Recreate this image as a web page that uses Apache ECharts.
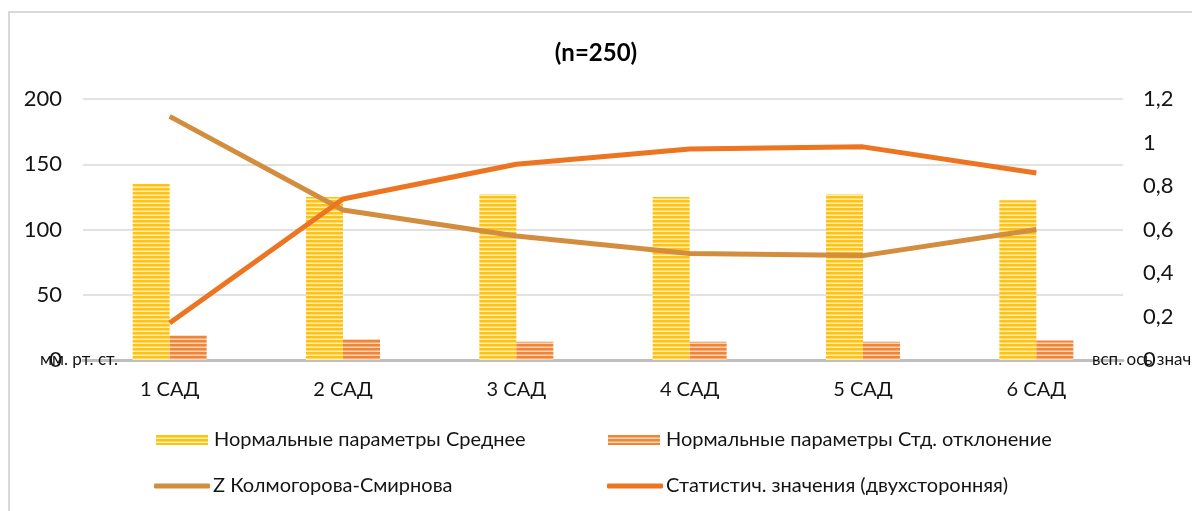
<!DOCTYPE html>
<html>
<head>
<meta charset="utf-8">
<style>
  html, body { margin: 0; padding: 0; background: #fff; }
  #chart { width: 1192px; height: 511px; }
</style>
<script src="https://cdn.jsdelivr.net/npm/echarts@6/dist/echarts.min.js"></script>
</head>
<body>
<div id="chart"></div>
<script>
// Categories and measured values
const categories = ['1 САД', '2 САД', '3 САД', '4 САД', '5 САД', '6 САД'];
const meanValues = [135, 125, 127, 125, 127, 122.5];
const stdValues = [19, 16, 14, 14, 14, 15];
const ksZ = [1.12, 0.69, 0.57, 0.49, 0.48, 0.60];
const pValues = [0.17, 0.74, 0.90, 0.97, 0.98, 0.86];

const seriesNames = [
  'Нормальные параметры Среднее',
  'Нормальные параметры Стд. отклонение',
  'Z Колмогорова-Смирнова',
  'Статистич. значения (двухсторонняя)'
];

const FONT = 'Lato, "Open Sans", sans-serif';
const TEXT = '#141414';

// Horizontal striped fill for the bars
function stripes(c1, c2, c3) {
  const cv = document.createElement('canvas');
  cv.width = 4; cv.height = 4;
  const ctx = cv.getContext('2d');
  ctx.fillStyle = c1; ctx.fillRect(0, 0, 4, 2);
  ctx.fillStyle = c2; ctx.fillRect(0, 2, 4, 1);
  ctx.fillStyle = c3; ctx.fillRect(0, 3, 4, 1);
  return { image: cv, repeat: 'repeat' };
}
const yellowFill = stripes('#FFC20E', '#FFD966', '#FFF0B8');
const orangeFill = stripes('#EF8535', '#F5AE78', '#FAD5B8');

const chart = echarts.init(document.getElementById('chart'), null, { renderer: 'canvas' });

function legendAt(name, left, top, isLine) {
  return {
    data: [{ name: name, icon: isLine ? 'roundRect' : 'rect' }],
    left: left,
    top: top,
    padding: 0,
    itemWidth: isLine ? 56 : 52,
    itemHeight: isLine ? 5 : 10,
    itemGap: 0,
    textStyle: {
      fontFamily: FONT, fontSize: 20, color: TEXT,
      padding: isLine ? [0, 0, 0, -2] : [0, 0, 0, 1]
    }
  };
}

chart.setOption({
  animation: false,
  backgroundColor: '#fff',
  title: {
    text: '(n=250)',
    left: 'center',
    top: 36,
    textStyle: { fontFamily: FONT, fontSize: 24, fontWeight: 'bold', color: '#000' }
  },
  graphic: [
    {
      type: 'rect',
      shape: { x: 9, y: 12, width: 1400, height: 700 },
      style: { fill: 'none', stroke: '#d9d9d9', lineWidth: 2 },
      silent: true
    },
    {
      type: 'text',
      left: 40,
      top: 351,
      style: { text: 'мм. рт. ст.', fontFamily: FONT, fontSize: 17, fill: TEXT },
      z: 100
    },
    {
      type: 'text',
      left: 1092,
      top: 351,
      style: { text: 'всп. ось знач', fontFamily: FONT, fontSize: 17, fill: TEXT },
      z: 100
    }
  ],
  legend: [
    legendAt(seriesNames[0], 156, 430, false),
    legendAt(seriesNames[1], 608, 430, false),
    legendAt(seriesNames[2], 154, 476, true),
    legendAt(seriesNames[3], 607, 476, true)
  ],
  grid: { left: 83, right: 69, top: 99, bottom: 151, containLabel: false },
  xAxis: {
    type: 'category',
    data: categories,
    axisLine: { lineStyle: { color: '#bfbfbf', width: 3 } },
    axisTick: { show: false },
    axisLabel: { fontFamily: FONT, fontSize: 20, color: TEXT, margin: 20 }
  },
  yAxis: [
    {
      type: 'value',
      min: 0, max: 200, interval: 50,
      axisLine: { show: false },
      axisTick: { show: false },
      splitLine: { lineStyle: { color: '#d9d9d9', width: 1.5 } },
      axisLabel: { fontFamily: FONT, fontSize: 22, color: TEXT, margin: 21 }
    },
    {
      type: 'value',
      min: 0, max: 1.2, interval: 0.2,
      axisLine: { show: false },
      axisTick: { show: false },
      splitLine: { show: false },
      axisLabel: {
        fontFamily: FONT, fontSize: 22, color: TEXT, margin: 20,
        formatter: v => String(+v.toFixed(1)).replace('.', ',')
      }
    }
  ],
  series: [
    {
      name: seriesNames[0],
      type: 'bar',
      data: meanValues,
      barWidth: 37,
      barGap: '0%',
      itemStyle: { color: yellowFill }
    },
    {
      name: seriesNames[1],
      type: 'bar',
      data: stdValues,
      barWidth: 37,
      barGap: '0%',
      itemStyle: { color: orangeFill }
    },
    {
      name: seriesNames[2],
      type: 'line',
      yAxisIndex: 1,
      data: ksZ,
      symbol: 'none',
      lineStyle: { color: '#D28E3E', width: 5 },
      itemStyle: { color: '#D28E3E' }
    },
    {
      name: seriesNames[3],
      type: 'line',
      yAxisIndex: 1,
      data: pValues,
      symbol: 'none',
      lineStyle: { color: '#ED7420', width: 5 },
      itemStyle: { color: '#ED7420' }
    }
  ]
});
</script>
</body>
</html>
